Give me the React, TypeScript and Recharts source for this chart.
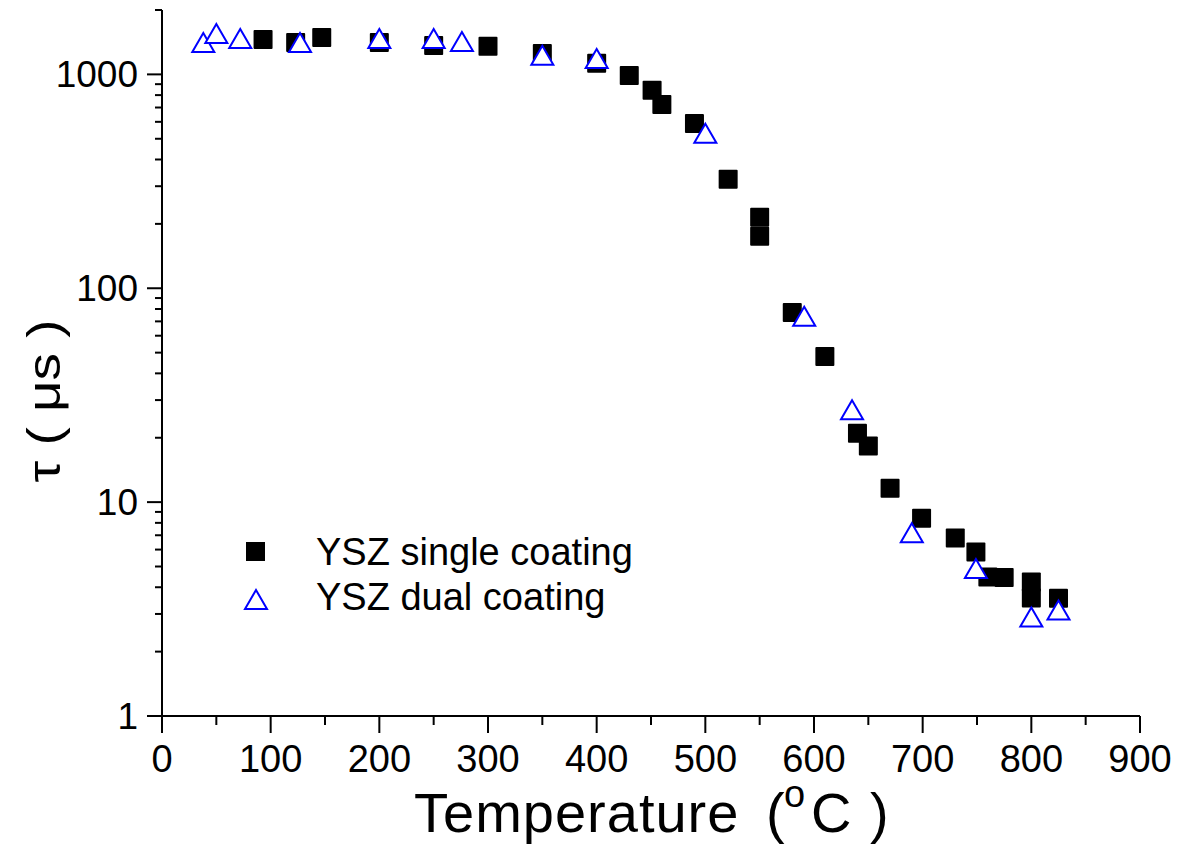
import { Legend, Scatter, ScatterChart, XAxis, YAxis } from 'recharts';

// YSZ single coating (black squares)
const singleTemp = [93, 123, 147, 200, 250, 300, 350, 400, 430, 451, 460, 490, 521, 550, 550, 580, 610, 640, 650, 670, 699, 730, 749, 760, 775, 800, 800, 825];
const singleTau = [1457, 1411, 1489, 1411, 1366, 1355, 1253, 1126, 989, 842, 724, 590, 323, 215, 175, 77, 48, 21, 18.3, 11.6, 8.4, 6.8, 5.84, 4.47, 4.44, 4.23, 3.56, 3.55];

// YSZ dual coating (blue open triangles)
const dualTemp = [38, 50, 72, 127, 200, 250, 276, 350, 400, 500, 591, 635, 690, 749, 800, 825];
const dualTau = [1411, 1554, 1473, 1411, 1473, 1473, 1426, 1230, 1188, 530, 74, 27, 7.2, 4.9, 2.9, 3.13];

const xTicks = [0, 50, 100, 150, 200, 250, 300, 350, 400, 450, 500, 550, 600, 650, 700, 750, 800, 850, 900];
const yMajor = [1, 10, 100, 1000];
const yTicks = [
	1, 2, 3, 4, 5, 6, 7, 8, 9,
	10, 20, 30, 40, 50, 60, 70, 80, 90,
	100, 200, 300, 400, 500, 600, 700, 800, 900,
	1000, 2000
];

const singleData = singleTemp.map((t, i) => ({ t, tau: singleTau[i] }));
const dualData = dualTemp.map((t, i) => ({ t, tau: dualTau[i] }));

const font = 'Liberation Sans, Arial, sans-serif';

function Square({ cx, cy }: any) {
	return <rect x={cx - 9.5} y={cy - 9.5} width={19} height={19} fill="#000" rx={1} />;
}

function Triangle({ cx, cy }: any) {
	const pts = `${cx},${cy - 9.5} ${cx - 11},${cy + 9.5} ${cx + 11},${cy + 9.5}`;
	return <polygon points={pts} fill="#fff" stroke="#0000ff" strokeWidth={2} />;
}

function XTick({ x, y, payload }: any) {
	const v = payload.value;
	const major = v % 100 === 0;
	return (
		<g>
			<line x1={x} y1={y} x2={x} y2={y + (major ? 17 : 9)} stroke="#000" strokeWidth={2} />
			{major && (
				<text x={x} y={y + 56} textAnchor="middle" fontSize={38} fill="#000">
					{v}
				</text>
			)}
		</g>
	);
}

function YTick({ x, y, payload }: any) {
	const v = payload.value;
	const major = yMajor.includes(v);
	return (
		<g>
			<line x1={x} y1={y} x2={x - (major ? 15 : 7)} y2={y} stroke="#000" strokeWidth={2} />
			{major && (
				<text x={x - 24} y={y + 13} textAnchor="end" fontSize={37} fill="#000">
					{v}
				</text>
			)}
		</g>
	);
}

function XTitle({ viewBox }: any) {
	const cx = viewBox.x + viewBox.width / 2;
	const by = viewBox.y + 116;
	return (
		<text y={by} fontSize={56} fill="#000">
			<tspan x={cx - 237} letterSpacing={1}>Temperature</tspan>
			<tspan x={cx + 115}>(</tspan>
			<tspan x={cx + 133} dy={-25} fontSize={38}>o</tspan>
			<tspan x={cx + 160} dy={25}>C</tspan>
			<tspan x={cx + 219}>)</tspan>
		</text>
	);
}

function YTitle({ viewBox }: any) {
	const bx = viewBox.x + 60;
	const cy = viewBox.y + viewBox.height / 2 + 38;
	return (
		<text
			x={bx}
			y={cy}
			transform={`rotate(-90 ${bx} ${cy})`}
			textAnchor="middle"
			fontSize={46}
			fill="#000"
			textLength={163}
			lengthAdjust="spacingAndGlyphs"
		>
			τ ( μs )
		</text>
	);
}

function LegendBox() {
	return (
		<svg width={420} height={110} style={{ fontFamily: font }}>
			<rect x={16} y={22} width={19} height={19} fill="#000" />
			<text x={86} y={45} fontSize={38} fill="#000">YSZ single coating</text>
			<polygon points="26,70 15,89 37,89" fill="#fff" stroke="#0000ff" strokeWidth={2} />
			<text x={86} y={90} fontSize={38} fill="#000">YSZ dual coating</text>
		</svg>
	);
}

export default function App() {
	return (
		<div style={{ position: 'absolute', left: 0, top: 0, background: '#fff', fontFamily: font }}>
			<ScatterChart width={1178} height={845} margin={{ top: 10, right: 38, bottom: 0, left: 0 }}>
				<XAxis
					type="number"
					dataKey="t"
					domain={[0, 900]}
					ticks={xTicks}
					interval={0}
					height={129}
					tickSize={0}
					tickMargin={0}
					tickLine={false}
					tick={<XTick />}
					axisLine={{ stroke: '#000', strokeWidth: 2 }}
					label={{ content: <XTitle /> }}
				/>
				<YAxis
					type="number"
					dataKey="tau"
					scale="log"
					domain={[1, 2000]}
					allowDataOverflow
					ticks={yTicks}
					interval={0}
					width={162}
					tickSize={0}
					tickMargin={0}
					tickLine={false}
					tick={<YTick />}
					axisLine={{ stroke: '#000', strokeWidth: 2 }}
					label={{ content: <YTitle /> }}
				/>
				<Legend
					layout="vertical"
					align="center"
					verticalAlign="middle"
					content={<LegendBox />}
					wrapperStyle={{ left: 230, top: 520, width: 420, height: 110 }}
				/>
				<Scatter name="YSZ single coating" data={singleData} shape={<Square />} isAnimationActive={false} />
				<Scatter name="YSZ dual coating" data={dualData} shape={<Triangle />} isAnimationActive={false} />
			</ScatterChart>
		</div>
	);
}
